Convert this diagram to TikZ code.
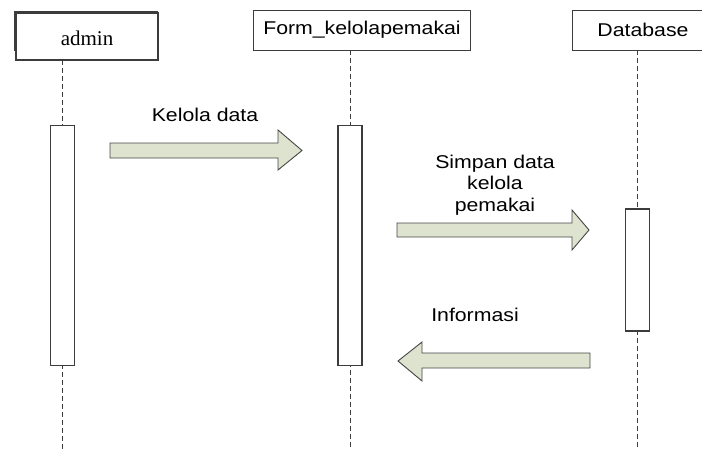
\documentclass[tikz,border=0pt]{standalone}
\usepackage{fontspec}
\newfontfamily\arialf[FakeStretch=1.15]{Liberation Sans}
\newfontfamily\timesf{Liberation Serif}
\definecolor{arrowfill}{RGB}{221,227,206}
\definecolor{arrowline}{RGB}{70,70,70}
\definecolor{lineg}{RGB}{60,60,60}
\begin{document}
\begin{tikzpicture}[x=1pt,y=-1pt,
  headbox/.style={draw=lineg,line width=0.9pt,fill=white,inner sep=0pt},
  actbox/.style={draw=lineg,line width=1.1pt,fill=white,inner sep=0pt,minimum width=24pt},
  lifeline/.style={draw=lineg,line width=0.9pt,dash pattern=on 5pt off 3pt},
  blockarrow/.style={draw=arrowline,line width=0.9pt,fill=arrowfill},
  lbl/.style={font=\arialf\fontsize{18.5}{20}\selectfont,align=center,inner sep=0pt}]
\useasboundingbox (0,0) rectangle (702,450);
% back shadow rectangle of admin
\draw[line width=0.7pt,draw=lineg] (14,11) rectangle (157,50);
\node[headbox,minimum width=142pt,minimum height=47pt,line width=1.2pt] (admin) at (87,36.5) {};
\node[font=\timesf\fontsize{21}{24}\selectfont,inner sep=0pt] (adminlbl) at (87,38) {admin};
\node[headbox,minimum width=217pt,minimum height=40pt] (form) at (361.5,30) {};
\node[lbl] (formlbl) at (362,30) {Form\_kelolapemakai};
\node[headbox,minimum width=131pt,minimum height=40pt] (db) at (637.5,30) {};
\node[lbl] (dblbl) at (643,30) {Database};
% lifeline anchors
\coordinate (startA) at (62.3,60);
\coordinate (startF) at (350,50);
\coordinate (startD) at (637.7,50);
\coordinate (endA) at (62.3,450);
\coordinate (endF) at (350,450);
\coordinate (endD) at (637.7,450);
\draw[lifeline] (startA) -- (endA);
\draw[lifeline] (startF) -- (endF);
\draw[lifeline] (startD) -- (endD);
% activation boxes
\node[actbox,minimum height=240pt] (actA) at (62.5,245.5) {};
\node[actbox,minimum height=240pt] (actF) at (350,245.5) {};
\node[actbox,minimum height=122pt] (actD) at (637.5,270) {};
% block arrows
\draw[blockarrow] (110,143) -- (278,143) -- (278,130) -- (302,150.5) -- (278,170) -- (278,158) -- (110,158) -- cycle;
\draw[blockarrow] (397,223) -- (572,223) -- (572,210) -- (589,230) -- (572,250) -- (572,237) -- (397,237) -- cycle;
\draw[blockarrow] (590,353) -- (422,353) -- (422,342) -- (398,361) -- (422,381) -- (422,368) -- (590,368) -- cycle;
% labels
\node[lbl] (m1) at (205,115) {Kelola data};
\node[lbl,align=center] (m2) at (495,185) {Simpan data\\[1.5pt]kelola\\[1.5pt]pemakai};
\node[lbl] (m3) at (475,315) {Informasi};
\end{tikzpicture}
\end{document}
